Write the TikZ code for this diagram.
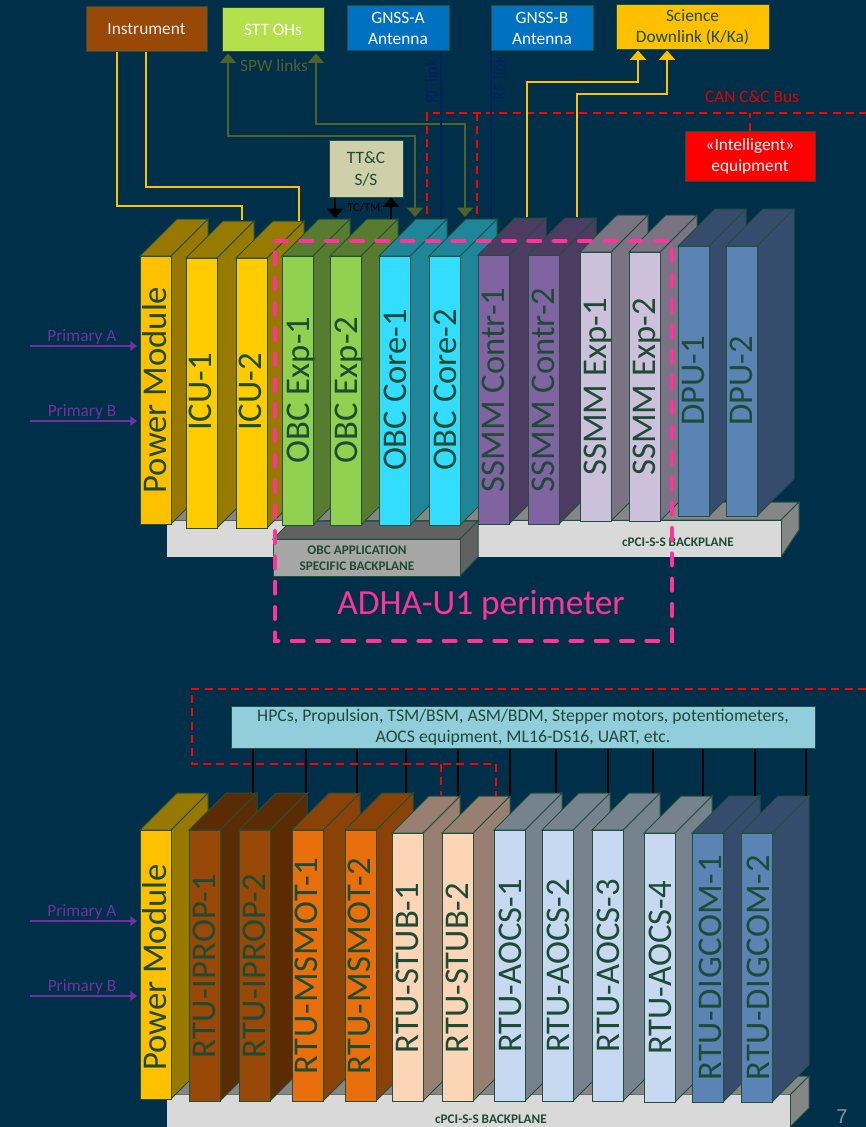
\documentclass[tikz,border=0pt]{standalone}
\usepackage{fontspec}
\setmainfont{Carlito}
\newfontfamily\arialfont{Liberation Sans}
\usetikzlibrary{arrows.meta,calc}
\definecolor{bg}{HTML}{003049}
\definecolor{edge}{HTML}{21503C}
\definecolor{txt}{HTML}{1E4B35}
\definecolor{pw}{HTML}{FFC000}\definecolor{pws}{HTML}{977800}
\definecolor{icu}{HTML}{FFCC00}\definecolor{icus}{HTML}{977A00}
\definecolor{oe}{HTML}{92D050}\definecolor{oes}{HTML}{577C30}
\definecolor{oc}{HTML}{33DDFF}\definecolor{ocs}{HTML}{1F8599}
\definecolor{sc}{HTML}{8064A2}\definecolor{scs}{HTML}{4D3C61}
\definecolor{se}{HTML}{CCC0DA}\definecolor{ses}{HTML}{7A7383}
\definecolor{dp}{HTML}{5B84B5}\definecolor{dps}{HTML}{364C6C}
\definecolor{ip}{HTML}{984807}\definecolor{ips}{HTML}{5B2B04}
\definecolor{ms}{HTML}{E96F0C}\definecolor{mss}{HTML}{8A4207}
\definecolor{st}{HTML}{FBD5B5}\definecolor{sts}{HTML}{978071}
\definecolor{ao}{HTML}{C6D9F1}\definecolor{aos}{HTML}{77828F}
\definecolor{spw}{HTML}{4F6228}
\definecolor{rfc}{HTML}{002060}
\definecolor{pink}{HTML}{FF3399}
\definecolor{violet2}{HTML}{7030A0}
\tikzset{
 cardtext/.style={rotate=90,anchor=base,text=txt,inner sep=0pt,font=\fontsize{26}{26}\selectfont},
 topbox/.style={draw=edge,line width=0.75pt,inner sep=0pt,align=center,font=\fontsize{13}{16}\selectfont},
 yline/.style={draw=pw,line width=1.6pt},
 yarrow/.style={yline,-{Triangle[width=12pt,length=7pt]}},
 spwline/.style={draw=spw,line width=1.5pt,{Triangle[width=12pt,length=7pt]}-{Triangle[width=12pt,length=7pt]}},
 rfline/.style={draw=rfc,line width=1.2pt},
 canline/.style={draw=red,line width=1.5pt,dash pattern=on 6pt off 4pt},
 blackline/.style={draw=black,line width=1.5pt},
 blackarrow/.style={blackline,-{Triangle[width=12pt,length=7pt]}},
 primary/.style={draw=violet2,line width=1.5pt,-{Triangle[width=7pt,length=5pt]}},
 primlabel/.style={text=violet2,inner sep=0pt,font=\fontsize{13}{13}\selectfont},
 bptext/.style={text=txt,inner sep=0pt,align=center,font=\fontsize{9.9}{12}\selectfont\bfseries},
}
% #1 name, #2 x, #3 top, #4 bottom, #5 front, #6 side, #7 text, #8 text centre y, #9 baseline offset
\newcommand\card[9]{%
 \filldraw[draw=edge,line width=0.75pt,fill=#6] (#2+31,#3) -- (#2+68,#3-37) -- (#2+68,#4-37) -- (#2+31,#4) -- cycle;
 \filldraw[draw=edge,line width=0.75pt,fill=#6] (#2,#3) -- (#2+37,#3-37) -- (#2+68,#3-37) -- (#2+31,#3) -- cycle;
 \filldraw[draw=edge,line width=0.75pt,fill=#5] (#2,#3) rectangle (#2+31,#4);
 \node[cardtext] (#1) at (#2+#9,#8) {#7};
}
\newcommand\lsA{\addfontfeatures{LetterSpace=2.6}}
\newcommand\lsB{\addfontfeatures{LetterSpace=1.7}}
\newcommand\lsC{\addfontfeatures{LetterSpace=0.8}}
\begin{document}
\begin{tikzpicture}[x=0.75pt,y=-0.75pt]
\useasboundingbox (0,0) rectangle (866,1127);
\clip (0,0) rectangle (866,1127);
\fill[bg] (0,0) rectangle (866,1127);

% ---- top row backplane
\filldraw[draw=edge,line width=0.75pt,fill=gray!95!white] (167,521) -- (185,503) -- (799,502) -- (781,520) -- cycle;
\filldraw[draw=edge,line width=0.75pt,fill=gray!95!white] (781,520) -- (799,502) -- (799,530) -- (781,557) -- cycle;
\fill[black!15] (167,521) rectangle (781,557);
\draw[edge,line width=0.5pt] (781,520) -- (781,557);
% OBC backplane
\filldraw[draw=edge,line width=0.75pt,fill=black!62] (273,539) -- (291,521) -- (478,521) -- (460,539) -- cycle;
\filldraw[draw=edge,line width=0.75pt,fill=black!62] (460,539) -- (478,521) -- (478,557) -- (460,576) -- cycle;
\filldraw[draw=edge,line width=0.75pt,fill=black!35] (273,539) rectangle (460,576);
\node[bptext] (obcbp) at (357,558) {OBC APPLICATION\\SPECIFIC BACKPLANE};
\node[bptext] (cpci1) at (678,542) {cPCI-S-S BACKPLANE};

% ---- top row cards
\card{pm1}{140}{256}{524}{pw}{pws}{Power Module}{390}{26}
\card{icu1}{186}{258}{528}{icu}{icus}{ICU-1}{392}{25}
\card{icu2}{236}{258}{528}{icu}{icus}{ICU-2}{392}{25}
\card{oe1}{282}{256}{525}{oe}{oes}{OBC Exp-1}{390}{27}
\card{oe2}{330}{256}{525}{oe}{oes}{OBC Exp-2}{390}{27}
\card{oc1}{379}{256}{525}{oc}{ocs}{OBC Core-1}{390}{27}
\card{oc2}{429}{256}{525}{oc}{ocs}{OBC Core-2}{390}{27}
\card{sc1}{478}{255}{524}{sc}{scs}{SSMM Contr-1}{390}{26.5}
\card{sc2}{528}{255}{524}{sc}{scs}{SSMM Contr-2}{390}{26.5}
\card{se1}{580}{252}{521}{se}{ses}{SSMM Exp-1}{387}{26.5}
\card{se2}{629}{252}{521}{se}{ses}{SSMM Exp-2}{387}{26.5}
\card{dp1}{678}{246}{516}{dp}{dps}{DPU-1}{381}{26.5}
\card{dp2}{726}{246}{516}{dp}{dps}{DPU-2}{381}{26.5}

% ---- top boxes
\node[topbox,fill=ip,text=white!92!black,minimum width=90.75pt,minimum height=33.75pt] (instr) at (146.5,29.5) {Instrument};
\node[topbox,fill={rgb,255:red,181;green,223;blue,75},text=white,minimum width=76.5pt,minimum height=33pt] (stt) at (273,30) {STT OHs};
\node[topbox,fill={rgb,255:red,0;green,112;blue,192},text=white,minimum width=76.5pt,minimum height=33.75pt] (gnssa) at (398,28.5) {GNSS-A\\Antenna};
\node[topbox,fill={rgb,255:red,0;green,112;blue,192},text=white,minimum width=76.5pt,minimum height=33.75pt] (gnssb) at (542,28.5) {GNSS-B\\Antenna};
\node[topbox,fill=pw,text=txt,minimum width=114.75pt,minimum height=33.75pt] (sci) at (692.5,27.5) {Science\\Downlink (K/Ka)};
\node[topbox,fill=red,text=white,minimum width=97.5pt,minimum height=36.75pt] (intel) at (750,156.5) {«Intelligent»\\equipment};
\node[topbox,fill={rgb,255:red,207;green,207;blue,170},text=txt,minimum width=55.5pt,minimum height=42pt] (ttc) at (366,169) {TT\&C\\S/S};

% ---- named ends
\coordinate (a1) at (117,0);\coordinate (a1m) at (242,206);\coordinate (a1e) at (242,220);
\coordinate (a2) at (146,0);\coordinate (a2m) at (299,187);\coordinate (a2e) at (299,221);
\coordinate (b1) at (228,0);\coordinate (b1m) at (415,136);\coordinate (b1e) at (415,217);
\coordinate (b2) at (316,0);\coordinate (b2m) at (465,124);\coordinate (b2e) at (465,217);
\coordinate (r1) at (441,219);\coordinate (r2) at (491,219);
\coordinate (d1) at (527,217);\coordinate (d1m) at (638,82);
\coordinate (d2) at (577,217);\coordinate (d2m) at (667,94);
\coordinate (canL) at (427,113);\coordinate (canM) at (477,113);\coordinate (canR) at (866,113);
\coordinate (canLe) at (427,214);\coordinate (canMe) at (477,218);
\coordinate (t1) at (335,218);\coordinate (t2) at (391,219);

% ---- connectors
\draw[yline] (instr.south -| a1) |- (a1m) -- (a1e);
\draw[yline] (instr.south -| a2) |- (a2m) -- (a2e);
\draw[spwline] (stt.south -| b1) ++(0,1) |- (b1m) -- (b1e);
\draw[spwline] (stt.south -| b2) ++(0,1) |- (b2m) -- (b2e);
\draw[canline] (canLe) -- (canL) -- (canR);
\draw[canline] (canM) -- (canMe);
\draw[canline] (intel.north) -- (intel.north |- canR);
\draw[rfline] (gnssa.south -| r1) -- (r1);
\draw[rfline] (gnssb.south -| r2) -- (r2);
\draw[yarrow] (d1) |- (d1m) -- (sci.south -| d1m);
\draw[yarrow] (d2) |- (d2m) -- (sci.south -| d2m);
\draw[blackarrow] (ttc.south -| t1) -- (t1);
\draw[blackarrow] (t2) -- (ttc.south -| t2);

% ---- labels
\node[text=spw,inner sep=0pt,font=\fontsize{13}{13}\selectfont] (spwl) at (274,66) {SPW links};
\node[text=rfc,rotate=90,inner sep=0pt,font=\fontsize{12.5}{12.5}\selectfont] (rfl1) at (431,81) {RF link};
\node[text=rfc,rotate=90,inner sep=0pt,font=\fontsize{12.5}{12.5}\selectfont] (rfl2) at (499,78) {RF link};
\node[text=black,inner sep=0pt,font=\fontsize{9}{9}\selectfont] (tctm) at (364,208) {TC/TM};
\node[text=red!88!black,inner sep=0pt,font=\fontsize{13}{13}\selectfont] (can) at (752,97) {CAN C\&C Bus};

% ---- primary power (top)
\coordinate (pa1s) at (30,346);\coordinate (pb1s) at (30,421);
\coordinate (pa1e) at (137,346);\coordinate (pb1e) at (137,421);
\draw[primary] (pa1s) -- (pa1e);
\draw[primary] (pb1s) -- (pb1e);
\node[primlabel] (pa1) at (82,337) {Primary A};
\node[primlabel] (pb1) at (82,412) {Primary B};

% ---- perimeter
\draw[draw=pink,line width=3pt,line cap=round,dash pattern=on 9pt off 10pt] (275,241) -- (672,241) -- (672,641) -- (275,641) -- cycle;
\node[text=pink,inner sep=0pt,font=\fontsize{26.5}{26.5}\selectfont] (adha) at (481,605) {ADHA-U1 perimeter};

% ---- bottom row backplane
\filldraw[draw=edge,line width=0.75pt,fill=gray!95!white] (167,1095) -- (186,1076) -- (809,1076) -- (790,1095) -- cycle;
\filldraw[draw=edge,line width=0.75pt,fill=gray!95!white] (790,1095) -- (809,1076) -- (809,1108) -- (790,1127) -- cycle;
\fill[black!15] (167,1095) rectangle (790,1127);
\draw[edge,line width=0.5pt] (790,1095) -- (790,1127);
\node[bptext] (cpci2) at (491,1119) {cPCI-S-S BACKPLANE};

% ---- bottom row cards
\card{pm2}{140}{830}{1099}{pw}{pws}{Power Module}{967.5}{26}
\card{ip1}{189}{830}{1101}{ip}{ips}{\lsC RTU-IPROP-1}{966}{26.5}
\card{ip2}{239}{830}{1101}{ip}{ips}{\lsC RTU-IPROP-2}{966}{26.5}
\card{ms1}{292}{830}{1101}{ms}{mss}{\lsA RTU-MSMOT-1}{966}{25}
\card{ms2}{345}{830}{1101}{ms}{mss}{\lsA RTU-MSMOT-2}{966}{25}
\card{st1}{392}{833}{1101}{st}{sts}{RTU-STUB-1}{968}{26}
\card{st2}{442}{833}{1101}{st}{sts}{RTU-STUB-2}{968}{26}
\card{ao1}{494}{830}{1101}{ao}{aos}{RTU-AOCS-1}{966}{27}
\card{ao2}{542}{830}{1101}{ao}{aos}{RTU-AOCS-2}{966}{27}
\card{ao3}{592}{830}{1101}{ao}{aos}{RTU-AOCS-3}{966}{27}
\card{ao4}{644}{833}{1102}{ao}{aos}{RTU-AOCS-4}{968}{27}
\card{dg1}{692}{833}{1102}{dp}{dps}{\lsB RTU-DIGCOM-1}{968}{29}
\card{dg2}{741}{833}{1102}{dp}{dps}{\lsB RTU-DIGCOM-2}{968}{28}

% ---- equipment box
\node[topbox,fill={rgb,255:red,146;green,205;blue,220},text=txt,minimum width=438pt,minimum height=31.5pt,font=\fontsize{13.3}{15.5}\selectfont] (equip) at (523,727) {HPCs, Propulsion, TSM/BSM, ASM/BDM, Stepper motors, potentiometers,\\AOCS equipment, ML16-DS16, UART, etc.};

\foreach \n/\x/\y in {1/253/793,2/306/793,3/357/793,4/406/793,5/458/796,6/510/796,7/556/793,8/608/793,9/653/793,10/703/796,11/755/796,12/806/796}{
 \coordinate (eq\n) at (\x,\y);
 \draw[blackline] (equip.south -| eq\n) -- (eq\n);
}
\coordinate (cb1) at (866,689);\coordinate (cb2) at (192,689);\coordinate (cb3) at (192,764);\coordinate (cb4) at (496,764);\coordinate (cb5) at (496,796);\coordinate (cb6) at (441,764);\coordinate (cb7) at (441,795);
\draw[canline] (cb1) -- (cb2) -- (cb3) -- (cb4) -- (cb5);
\draw[canline] (cb6) -- (cb7);

\coordinate (pa2s) at (30,921);\coordinate (pb2s) at (30,996);
\coordinate (pa2e) at (137,921);\coordinate (pb2e) at (137,996);
\draw[primary] (pa2s) -- (pa2e);
\draw[primary] (pb2s) -- (pb2e);
\node[primlabel] (pa2) at (82,912) {Primary A};
\node[primlabel] (pb2) at (82,987) {Primary B};

\node[text={rgb,255:red,131;green,150;blue,167},inner sep=0pt,font=\arialfont\fontsize{15}{15}\selectfont] (pg) at (842,1117) {7};
\end{tikzpicture}
\end{document}
